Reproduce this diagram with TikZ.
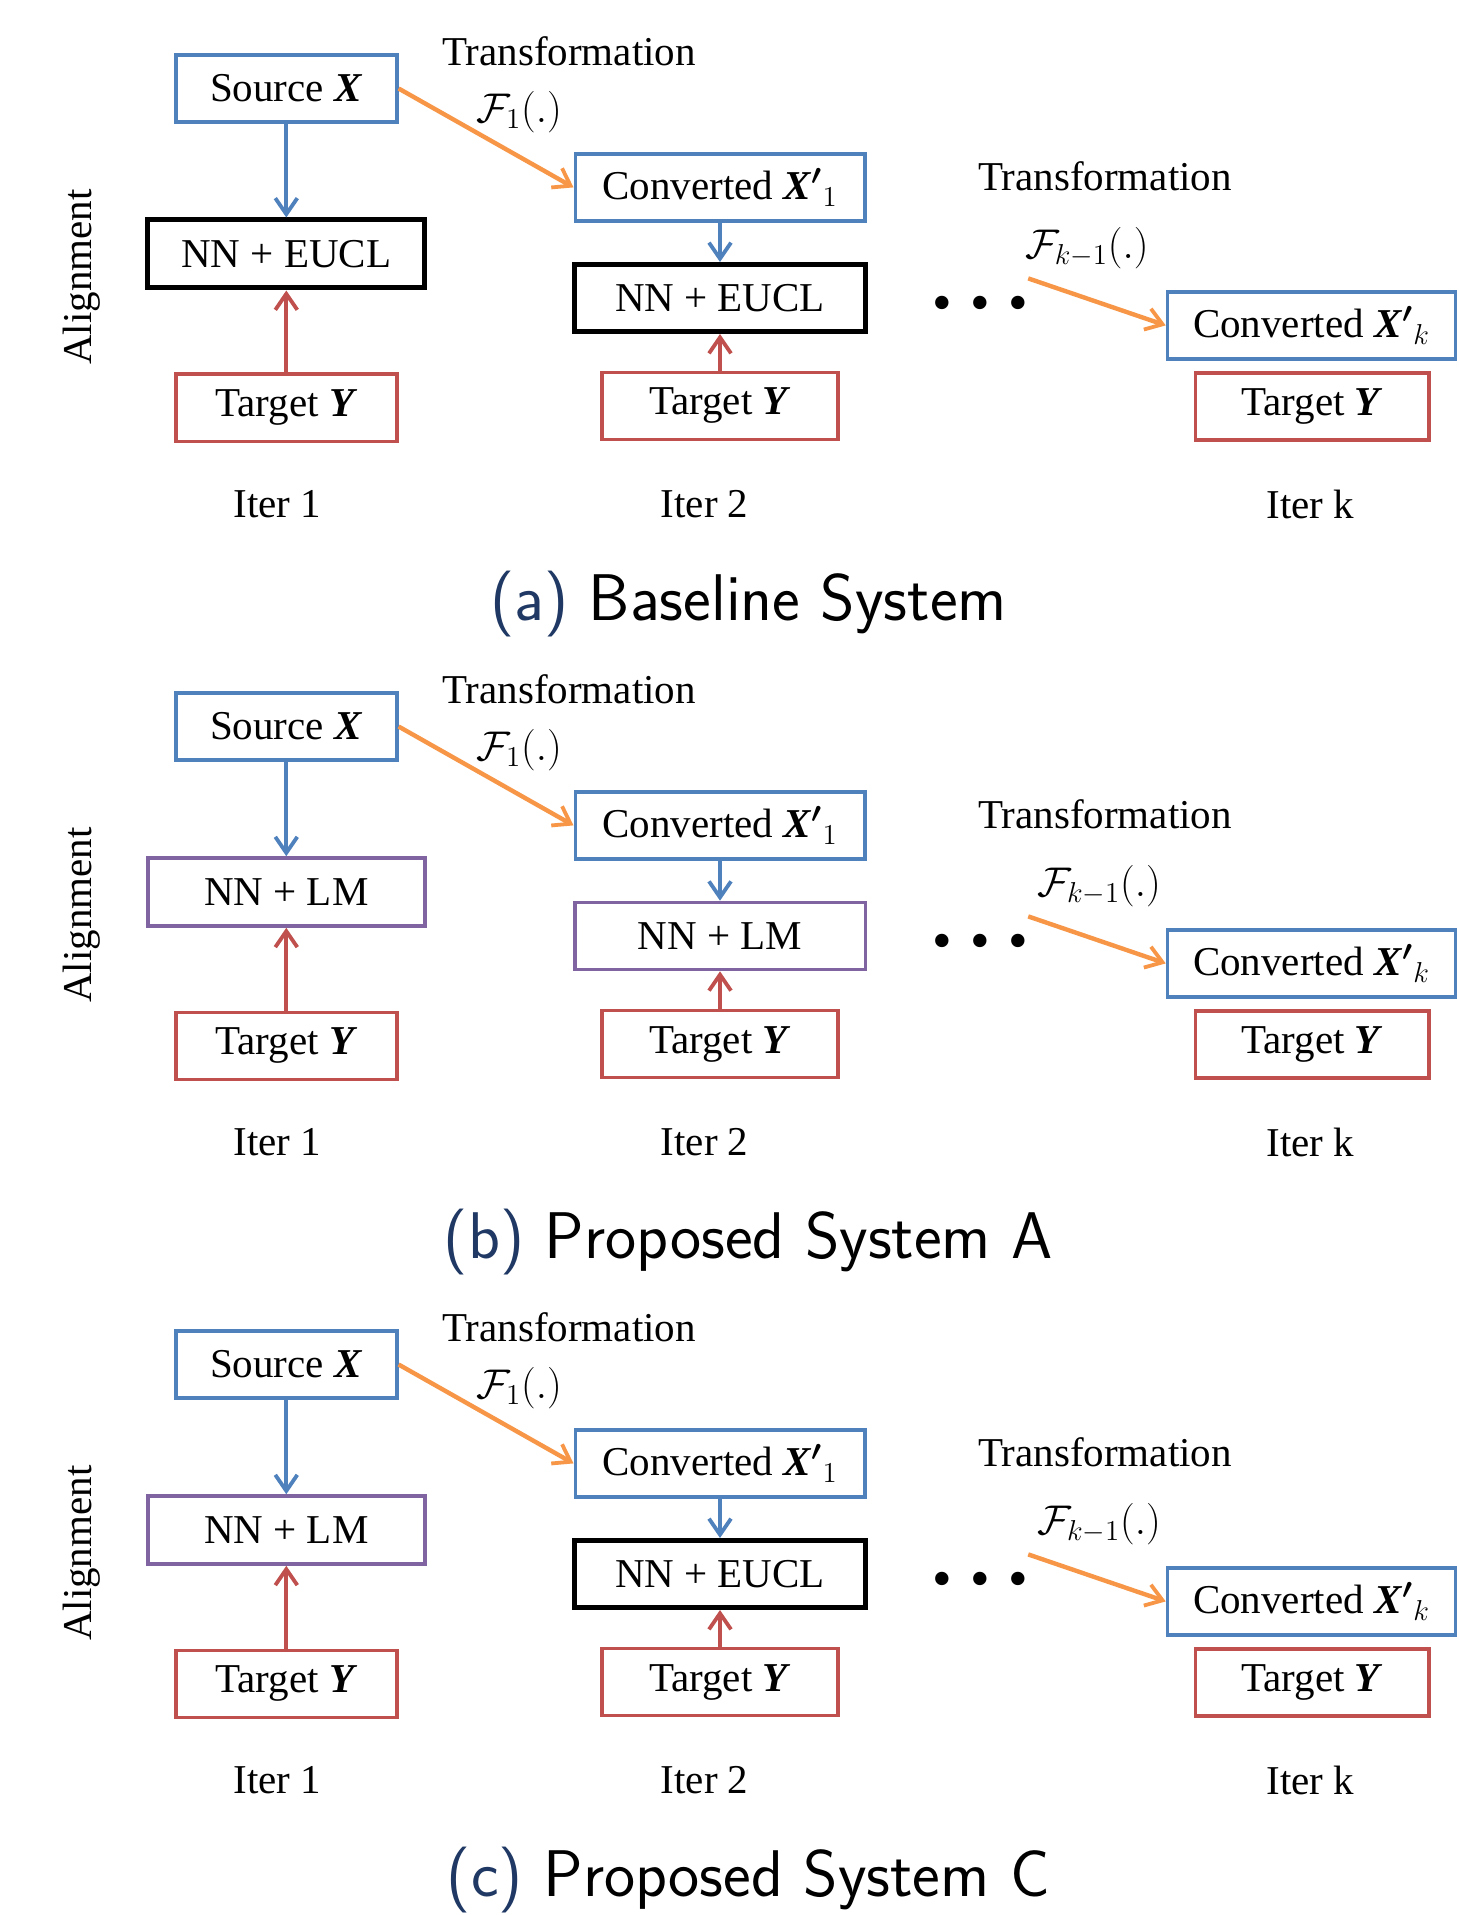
\documentclass[tikz,border=0pt]{standalone}
\usepackage{amsmath}
\usepackage{fontspec}
\newfontfamily\tnr{Liberation Serif}
\usetikzlibrary{arrows.meta}
\definecolor{myblue}{RGB}{79,129,189}
\definecolor{myred}{RGB}{192,80,77}
\definecolor{mypurple}{RGB}{128,100,162}
\definecolor{myorange}{RGB}{247,150,70}
\definecolor{capblue}{RGB}{31,56,100}
\tikzset{
 lbl/.style={font=\tnr\fontsize{20.5}{24}\selectfont, inner sep=0pt},
 mlbl/.style={font=\tnr\fontsize{22.5}{26}\selectfont, inner sep=0pt},
 bx/.style={lbl, draw, line width=1.8pt, minimum height=33.5pt, fill=white},
 bluebx/.style={bx, draw=myblue},
 redbx/.style={bx, draw=myred},
 purplebx/.style={bx, draw=mypurple},
 blackbx/.style={bx, draw=black, line width=2.5pt},
 tipb/.style={-{Straight Barb[length=8pt,width=11pt,line width=1.9pt]}},
 barrow/.style={draw=myblue, line width=1.9pt, tipb},
 rarrow/.style={draw=myred, line width=1.9pt, tipb},
 oarrow/.style={draw=myorange, line width=2.2pt, tipb},
 capt/.style={font=\sffamily\fontsize{33}{40}\selectfont, inner sep=0pt},
 dotsnode/.style={inner sep=0pt, font=\tnr\fontsize{28}{30}\selectfont},
}
\newcommand\onedot{\makebox[18.9pt]{\textbullet}}
\newcommand\drawpanel[9]{%
\begin{scope}[shift={(0,#2)}]
\node[bluebx, minimum width=110.5pt] (src#1) at (286.3,88.5) {Source \textbf{\textit{X}}};
\node[#3, minimum width=138.5pt, minimum height=34pt] (nna#1) at (286.3,254) {#4};
\node[redbx, minimum width=110.5pt] (tga#1) at (286.3,407.8) {Target \textbf{\textit{Y}}};
\node[bluebx, minimum width=144.7pt] (cva#1) at (720,187.4) {Converted \textbf{\textit{X}}$\boldsymbol{'}{}_{1}$};
\node[#5, minimum width=145.3pt] (nnb#1) at (720,298) {#6};
\node[redbx, minimum width=117.8pt] (tgb#1) at (720,406) {Target \textbf{\textit{Y}}};
\node[bluebx, minimum width=144pt] (cvk#1) at (1311.5,325.4) {Converted \textbf{\textit{X}}$\boldsymbol{'}{}_{k}$};
\node[redbx, minimum width=116.6pt] (tgk#1) at (1312.1,406.6) {Target \textbf{\textit{Y}}};
\node[lbl] (tra#1) at (569,51.3) {Transformation};
\node[mlbl] (fa#1) at (519,112.3) {$\mathcal{F}_1(.)$};
\node[lbl] (trb#1) at (1105,175.8) {Transformation};
\node[mlbl] (fk#1) at (#9,247.9) {$\mathcal{F}_{k-1}(.)$};
\node[dotsnode] (dots#1) at (980.5,309) {\onedot\onedot\onedot};
\node[lbl] (ita#1) at (277.2,504.3) {Iter 1};
\node[lbl] (itb#1) at (704.6,504.3) {Iter 2};
\node[lbl] (itk#1) at (1310.3,504.3) {Iter k};
\node[lbl, rotate=90] (al#1) at (81.8,277.2) {Alignment};
\node[capt] (cap#1) at (748.5,604) {{\color{capblue}(#7)} #8};
\coordinate (ks#1) at (1028.2,278.4);
\draw[barrow] (src#1.south) -- (nna#1.north);
\draw[rarrow] (tga#1.north) -- (nna#1.south);
\draw[oarrow] (src#1.east) -- (cva#1.west);
\draw[barrow] (cva#1.south) -- (nnb#1.north);
\draw[rarrow] (tgb#1.north) -- (nnb#1.south);
\draw[oarrow] (ks#1) -- (cvk#1.west);
\end{scope}}
\begin{document}
\begin{tikzpicture}[x=0.5pt,y=-0.5pt]
\useasboundingbox[fill=white] (0,0) rectangle (1458,1915);
\drawpanel{a}{0}{blackbx}{NN + EUCL}{blackbx}{NN + EUCL}{a}{Baseline System}{1086.8}
\drawpanel{b}{638}{purplebx}{NN + LM}{purplebx}{NN + LM}{b}{Proposed System A}{1099}
\drawpanel{c}{1276}{purplebx}{NN + LM}{blackbx}{NN + EUCL}{c}{Proposed System C}{1099}
\end{tikzpicture}
\end{document}
